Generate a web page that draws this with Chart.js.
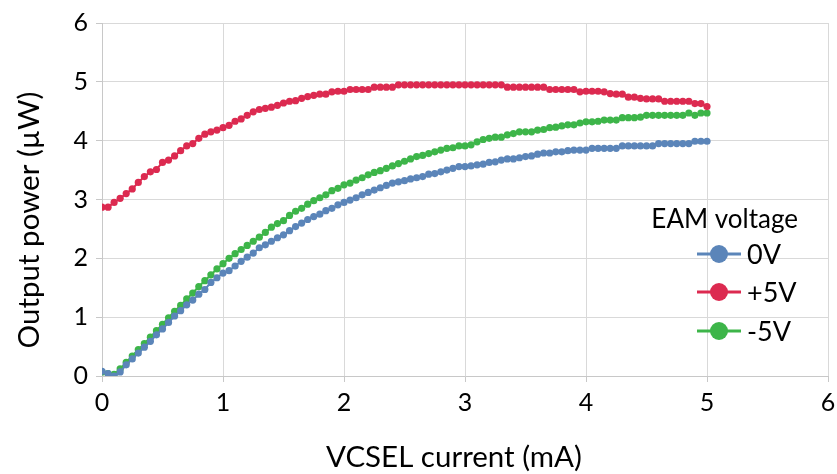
<!DOCTYPE html>
<html>
<head>
<meta charset="utf-8">
<script src="https://cdn.jsdelivr.net/npm/chart.js@4.4.1/dist/chart.umd.min.js"></script>
<style>
  html, body { margin: 0; padding: 0; background: #fff; }
</style>
</head>
<body>
<canvas id="powerChart" width="837" height="474"></canvas>
<script>
// VCSEL current sweep (mA)
const currents = [
  0.00, 0.05, 0.10, 0.15, 0.20, 0.25, 0.30, 0.35, 0.40, 0.45,
  0.50, 0.55, 0.60, 0.65, 0.70, 0.75, 0.80, 0.85, 0.90, 0.95,
  1.00, 1.05, 1.10, 1.15, 1.20, 1.25, 1.30, 1.35, 1.40, 1.45,
  1.50, 1.55, 1.60, 1.65, 1.70, 1.75, 1.80, 1.85, 1.90, 1.95,
  2.00, 2.05, 2.10, 2.15, 2.20, 2.25, 2.30, 2.35, 2.40, 2.45,
  2.50, 2.55, 2.60, 2.65, 2.70, 2.75, 2.80, 2.85, 2.90, 2.95,
  3.00, 3.05, 3.10, 3.15, 3.20, 3.25, 3.30, 3.35, 3.40, 3.45,
  3.50, 3.55, 3.60, 3.65, 3.70, 3.75, 3.80, 3.85, 3.90, 3.95,
  4.00, 4.05, 4.10, 4.15, 4.20, 4.25, 4.30, 4.35, 4.40, 4.45,
  4.50, 4.55, 4.60, 4.65, 4.70, 4.75, 4.80, 4.85, 4.90, 4.95,
  5.00
];

// output power (uW) per EAM voltage
const power0V = [
  0.08, 0.04, 0.00, 0.07, 0.19, 0.29, 0.39, 0.49, 0.59, 0.70,
  0.80, 0.91, 1.02, 1.11, 1.21, 1.29, 1.39, 1.47, 1.59, 1.67,
  1.75, 1.79, 1.87, 1.95, 2.02, 2.09, 2.18, 2.23, 2.29, 2.35,
  2.40, 2.47, 2.54, 2.60, 2.66, 2.71, 2.75, 2.81, 2.85, 2.91,
  2.95, 2.99, 3.03, 3.08, 3.12, 3.16, 3.20, 3.24, 3.28, 3.30,
  3.32, 3.35, 3.37, 3.39, 3.43, 3.44, 3.47, 3.50, 3.53, 3.56,
  3.56, 3.57, 3.59, 3.60, 3.63, 3.64, 3.67, 3.69, 3.69, 3.71,
  3.73, 3.74, 3.77, 3.79, 3.79, 3.81, 3.81, 3.83, 3.84, 3.84,
  3.84, 3.87, 3.87, 3.87, 3.87, 3.87, 3.91, 3.91, 3.91, 3.91,
  3.91, 3.91, 3.95, 3.95, 3.95, 3.95, 3.95, 3.95, 3.99, 3.99,
  3.99
];

const powerPlus5V = [
  2.87, 2.87, 2.95, 3.02, 3.10, 3.18, 3.29, 3.39, 3.47, 3.51,
  3.63, 3.67, 3.74, 3.83, 3.91, 3.95, 4.04, 4.11, 4.15, 4.18,
  4.22, 4.26, 4.33, 4.37, 4.43, 4.49, 4.53, 4.55, 4.57, 4.60,
  4.64, 4.67, 4.68, 4.72, 4.75, 4.77, 4.79, 4.79, 4.83, 4.84,
  4.84, 4.87, 4.87, 4.87, 4.87, 4.91, 4.91, 4.91, 4.91, 4.95,
  4.95, 4.95, 4.95, 4.95, 4.95, 4.95, 4.95, 4.95, 4.95, 4.95,
  4.95, 4.95, 4.95, 4.95, 4.95, 4.95, 4.95, 4.91, 4.91, 4.91,
  4.91, 4.91, 4.91, 4.91, 4.87, 4.87, 4.87, 4.87, 4.87, 4.83,
  4.84, 4.84, 4.84, 4.83, 4.80, 4.79, 4.79, 4.74, 4.74, 4.72,
  4.71, 4.71, 4.71, 4.67, 4.67, 4.67, 4.67, 4.67, 4.63, 4.63,
  4.58
];

const powerMinus5V = [
  0.07, 0.04, 0.03, 0.12, 0.23, 0.34, 0.45, 0.55, 0.66, 0.77,
  0.88, 0.99, 1.10, 1.20, 1.31, 1.41, 1.52, 1.62, 1.72, 1.82,
  1.91, 2.00, 2.08, 2.15, 2.22, 2.29, 2.36, 2.44, 2.53, 2.59,
  2.64, 2.73, 2.80, 2.85, 2.92, 2.98, 3.03, 3.08, 3.15, 3.19,
  3.25, 3.28, 3.33, 3.37, 3.42, 3.46, 3.49, 3.53, 3.57, 3.61,
  3.65, 3.69, 3.73, 3.75, 3.78, 3.81, 3.84, 3.87, 3.88, 3.91,
  3.91, 3.93, 3.98, 4.02, 4.04, 4.06, 4.06, 4.10, 4.12, 4.15,
  4.15, 4.15, 4.18, 4.19, 4.22, 4.23, 4.25, 4.27, 4.27, 4.30,
  4.32, 4.32, 4.33, 4.35, 4.35, 4.35, 4.39, 4.39, 4.39, 4.40,
  4.43, 4.43, 4.43, 4.43, 4.43, 4.43, 4.43, 4.47, 4.43, 4.47,
  4.47
];

const seriesNames = ['0V', '+5V', '-5V'];
const seriesColors = ['#5b85b9', '#dc2a50', '#3db549'];
const legendTitle = 'EAM voltage';
const xTitle = 'VCSEL current (mA)';
const yTitle = 'Output power (µW)';

const FONT = "Lato, 'Open Sans', sans-serif";

function toPoints(ys) {
  return currents.map((x, i) => ({ x: x, y: ys[i] }));
}

function makeSeries(name, ys, color) {
  return {
    label: name,
    data: toPoints(ys),
    borderColor: color,
    backgroundColor: color,
    pointBackgroundColor: color,
    pointBorderWidth: 0,
    pointRadius: 3.6,
    borderWidth: 2,
    tension: 0,
    fill: false
  };
}

// axis titles + legend inside the plot, drawn by hand
const extras = {
  id: 'extras',
  afterDraw(chart) {
    const ctx = chart.ctx;
    ctx.save();
    ctx.fillStyle = '#000';
    ctx.textBaseline = 'middle';
    ctx.textAlign = 'center';
    ctx.font = '29.5px ' + FONT;
    ctx.fillText(xTitle, 454, 457);

    ctx.save();
    ctx.translate(29, 220);
    ctx.rotate(-Math.PI / 2);
    ctx.fillText(yTitle, 0, 0);
    ctx.restore();

    ctx.textAlign = 'right';
    ctx.font = '26px ' + FONT;
    ctx.fillText(legendTitle, 798, 220);

    const rows = [254, 292, 331];
    chart.data.datasets.forEach((ds, i) => {
      const y = rows[i];
      ctx.strokeStyle = ds.borderColor;
      ctx.lineWidth = 3;
      ctx.beginPath();
      ctx.moveTo(697, y);
      ctx.lineTo(741, y);
      ctx.stroke();
      ctx.fillStyle = ds.borderColor;
      ctx.beginPath();
      ctx.arc(719, y, 9, 0, Math.PI * 2);
      ctx.fill();
      ctx.fillStyle = '#000';
      ctx.textAlign = 'left';
      ctx.font = '27px ' + FONT;
      ctx.fillText(ds.label, 747, y + 1);
    });
    ctx.restore();
  }
};

const ctx = document.getElementById('powerChart').getContext('2d');
const powerChart = new Chart(ctx, {
  type: 'line',
  data: {
    datasets: [
      makeSeries(seriesNames[0], power0V, seriesColors[0]),
      makeSeries(seriesNames[1], powerPlus5V, seriesColors[1]),
      makeSeries(seriesNames[2], powerMinus5V, seriesColors[2])
    ]
  },
  options: {
    responsive: false,
    animation: false,
    layout: { padding: { top: 8, right: 9, left: 0, bottom: 0 } },
    plugins: {
      legend: { display: false },
      tooltip: { enabled: false }
    },
    scales: {
      x: {
        type: 'linear',
        min: 0,
        max: 6,
        ticks: { stepSize: 1, color: '#000', font: { family: FONT, size: 25 }, padding: 6 },
        grid: { color: '#d9d9d9', tickColor: '#c8c8c8', tickLength: 6 },
        border: { color: '#c8c8c8' },
        afterFit(scale) {
          scale.height = 98;
          scale.paddingRight = 0;
          scale.paddingLeft = 0;
        }
      },
      y: {
        min: 0,
        max: 6,
        ticks: { stepSize: 1, color: '#000', font: { family: FONT, size: 25 }, padding: 8 },
        grid: { color: '#d9d9d9', tickColor: '#c8c8c8', tickLength: 6 },
        border: { color: '#c8c8c8' },
        afterFit(scale) { scale.width = 102; }
      }
    }
  },
  plugins: [extras]
});
</script>
</body>
</html>
